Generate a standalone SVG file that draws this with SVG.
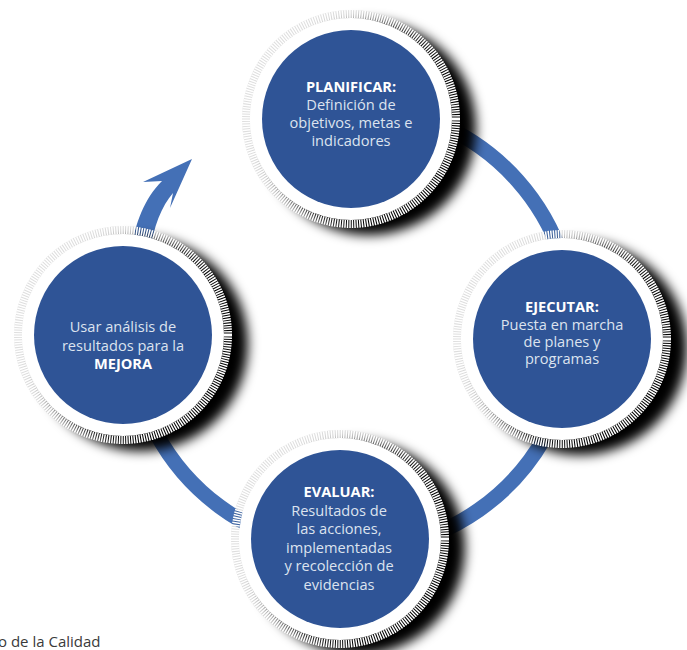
<svg xmlns="http://www.w3.org/2000/svg" xmlns:xlink="http://www.w3.org/1999/xlink" width="687" height="650" viewBox="0 0 687 650">
<style>
.t{font-family:"Open Sans","Noto Sans",sans-serif;font-size:14.6px;fill:#dce3ef;text-anchor:middle}
.b{font-weight:bold;fill:#ffffff}
.cap{font-family:"Open Sans","Noto Sans",sans-serif;font-size:15px;fill:#3a3a3a}
.arc{fill:none;stroke:#4470b6;stroke-width:15}
</style>
<defs>
<filter id="sh" x="-40%" y="-40%" width="180%" height="180%"><feGaussianBlur stdDeviation="6"/></filter>
<g id="badge">
<circle cx="18" cy="9" r="107" fill="#000" filter="url(#sh)"/>
<circle r="105" fill="none" stroke="#000" stroke-opacity="0.13" stroke-width="8"/>
<circle r="105" fill="none" stroke="#fff" stroke-width="8" stroke-dasharray="1.5 1"/>
<circle r="101" fill="#fff"/>
<circle r="89" fill="#2f5496"/>
</g>
</defs>
<rect width="687" height="650" fill="#fff"/>
<g id="connectors">
<path class="arc" d="M352,106 A222,222 0 1 1 143,252"/>
<path d="M130,255 C135,222 145,198 162,181 L143,182 L192,159 L170,208 L173,193 C162,206 153,226 150,255 Z" fill="#4470b6"/>
</g>
<g id="planificar">
<use xlink:href="#badge" transform="translate(351,119)"/>
<text class="t b" x="351" y="92">PLANIFICAR:</text>
<text class="t" x="351" y="110">Definición de</text>
<text class="t" x="351" y="128">objetivos, metas e</text>
<text class="t" x="351" y="146">indicadores</text>
</g>
<g id="ejecutar">
<use xlink:href="#badge" transform="translate(562,339)"/>
<text class="t b" x="562" y="312">EJECUTAR:</text>
<text class="t" x="562" y="330">Puesta en marcha</text>
<text class="t" x="562" y="347">de planes y</text>
<text class="t" x="562" y="364">programas</text>
</g>
<g id="evaluar">
<use xlink:href="#badge" transform="translate(340,539)"/>
<text class="t b" x="339" y="497">EVALUAR:</text>
<text class="t" x="339" y="515.5">Resultados de</text>
<text class="t" x="339" y="534">las acciones,</text>
<text class="t" x="339" y="552.5">implementadas</text>
<text class="t" x="339" y="571">y recolección de</text>
<text class="t" x="339" y="589.5">evidencias</text>
</g>
<g id="mejora">
<use xlink:href="#badge" transform="translate(123,335)"/>
<text class="t" x="123" y="332">Usar análisis de</text>
<text class="t" x="123" y="351">resultados para la</text>
<text class="t b" x="123" y="369">MEJORA</text>
</g>
<text class="cap" x="-2" y="647">o de la Calidad</text>
</svg>
